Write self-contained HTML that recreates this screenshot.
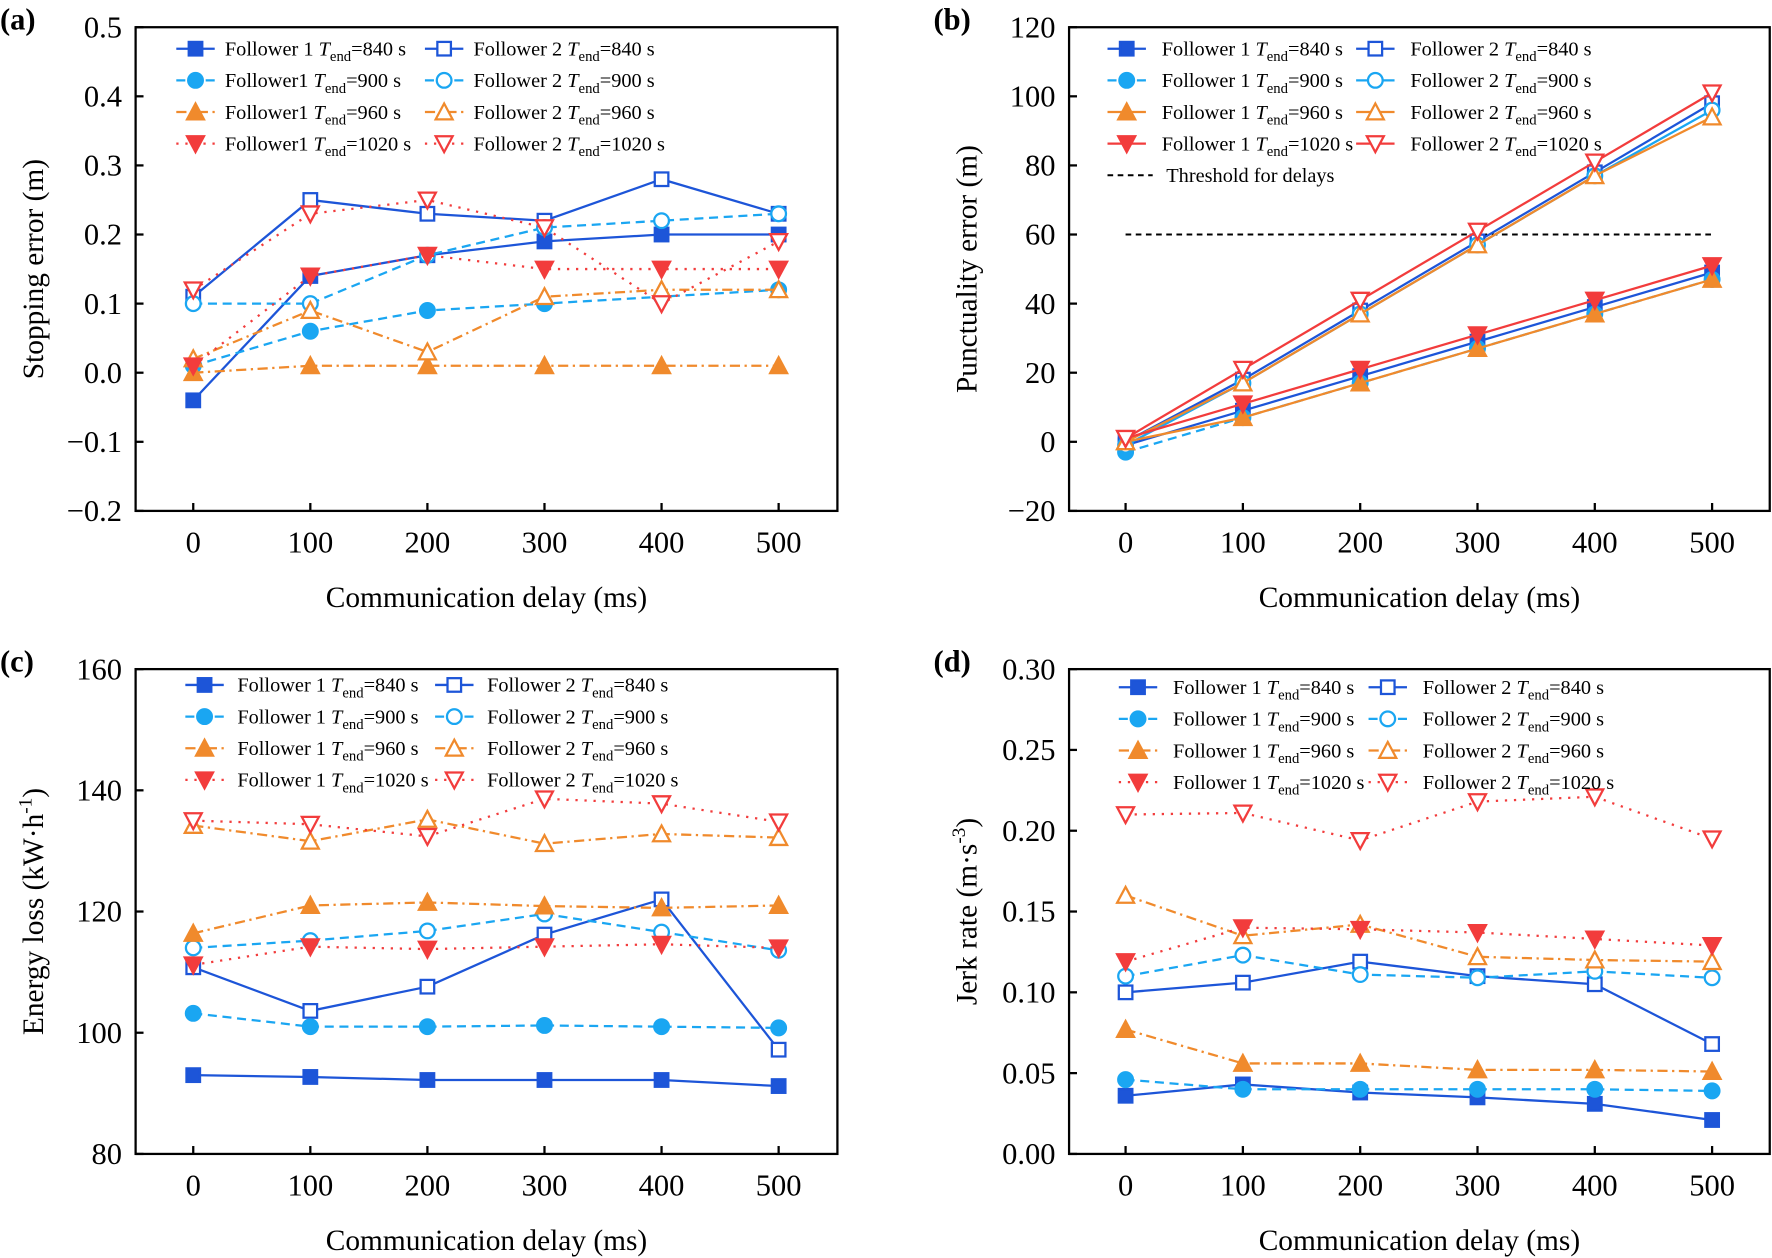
<!DOCTYPE html>
<html><head><meta charset="utf-8"><style>
html,body{margin:0;padding:0;background:#fff;}
svg{display:block;font-family:"Liberation Serif",serif;}
</style></head><body>
<svg id="fig" width="1772" height="1258" viewBox="0 0 1568 1113" xmlns="http://www.w3.org/2000/svg"></svg>
<script>
// ---- data ----
const delays = [0, 100, 200, 300, 400, 500];
const xTicks = ["0", "100", "200", "300", "400", "500"];
// (a) stopping error
const aF1_840 = [-0.04, 0.14, 0.17, 0.19, 0.20, 0.20];
const aF2_840 = [0.11, 0.25, 0.23, 0.22, 0.28, 0.23];
const aF1_900 = [0.01, 0.06, 0.09, 0.10, 0.11, 0.12];
const aF2_900 = [0.10, 0.10, 0.17, 0.21, 0.22, 0.23];
const aF1_960 = [0.00, 0.01, 0.01, 0.01, 0.01, 0.01];
const aF2_960 = [0.02, 0.09, 0.03, 0.11, 0.12, 0.12];
const aF1_1020 = [0.01, 0.14, 0.17, 0.15, 0.15, 0.15];
const aF2_1020 = [0.12, 0.23, 0.25, 0.21, 0.10, 0.19];
const aTicks = ["\u22120.2", "\u22120.1", "0.0", "0.1", "0.2", "0.3", "0.4", "0.5"];
const aTickVals = [-0.2, -0.1, 0, 0.1, 0.2, 0.3, 0.4, 0.5];
// (b) punctuality error
const bF1_840 = [-1, 9, 19, 29, 39, 49];
const bF2_840 = [0, 18, 38, 58, 78, 98];
const bF1_900 = [-3, 7, 17, 27, 37, 47];
const bF2_900 = [-1, 17, 37, 57, 77, 96];
const bF1_960 = [0, 7, 17, 27, 37, 47];
const bF2_960 = [0, 17, 37, 57, 77, 94];
const bF1_1020 = [1, 11, 21, 31, 41, 51];
const bF2_1020 = [1, 21, 41, 61, 81, 101];
const bThreshold = [60, 60];
const bTicks = ["\u221220", "0", "20", "40", "60", "80", "100", "120"];
const bTickVals = [-20, 0, 20, 40, 60, 80, 100, 120];
// (c) energy loss
const cF1_840 = [93, 92.7, 92.2, 92.2, 92.2, 91.2];
const cF2_840 = [110.8, 103.6, 107.6, 116.2, 122, 97.2];
const cF1_900 = [103.2, 101, 101, 101.2, 101, 100.8];
const cF2_900 = [114, 115.2, 116.8, 119.6, 116.6, 113.6];
const cF1_960 = [116.4, 121, 121.5, 120.9, 120.6, 121];
const cF2_960 = [134.2, 131.6, 135.2, 131.2, 132.8, 132.2];
const cF1_1020 = [111.2, 114.2, 113.8, 114.2, 114.6, 114];
const cF2_1020 = [135, 134.4, 132.4, 138.6, 137.8, 134.8];
const cTicks = ["80", "100", "120", "140", "160"];
const cTickVals = [80, 100, 120, 140, 160];
// (d) jerk rate
const dF1_840 = [0.036, 0.043, 0.038, 0.035, 0.031, 0.021];
const dF2_840 = [0.100, 0.106, 0.119, 0.110, 0.105, 0.068];
const dF1_900 = [0.046, 0.040, 0.040, 0.040, 0.040, 0.039];
const dF2_900 = [0.110, 0.123, 0.111, 0.109, 0.113, 0.109];
const dF1_960 = [0.077, 0.056, 0.056, 0.052, 0.052, 0.051];
const dF2_960 = [0.160, 0.135, 0.142, 0.122, 0.120, 0.119];
const dF1_1020 = [0.119, 0.140, 0.139, 0.137, 0.133, 0.129];
const dF2_1020 = [0.210, 0.211, 0.194, 0.218, 0.221, 0.195];
const dTicks = ["0.00", "0.05", "0.10", "0.15", "0.20", "0.25", "0.30"];
const dTickVals = [0, 0.05, 0.10, 0.15, 0.20, 0.25, 0.30];

const NS = "http://www.w3.org/2000/svg";
const svg = document.getElementById("fig");
const BLUE = "#1d55d8", LBLUE = "#1aa6f2", ORANGE = "#f08a2c", RED = "#f23c3c";
const DASH = {solid: "", dash: "8,5", dashdot: "9,4,2,4", dot: "2,6"};

function el(tag, attrs, parent) {
  const e = document.createElementNS(NS, tag);
  for (const k in attrs) e.setAttribute(k, attrs[k]);
  (parent || svg).appendChild(e);
  return e;
}
function marker(g, type, filled, color, x, y) {
  const s = 6.5;
  const fill = filled ? color : "#fff";
  let m;
  if (type === "sq") m = el("rect", {x: x - s + 0.5, y: y - s + 0.5, width: 2 * s - 1, height: 2 * s - 1, fill: fill, stroke: color, "stroke-width": 2}, g);
  else if (type === "ci") m = el("circle", {cx: x, cy: y, r: s, fill: fill, stroke: color, "stroke-width": 2}, g);
  else if (type === "up") m = el("polygon", {points: `${x},${y - s - 1} ${x - s - 1},${y + s} ${x + s + 1},${y + s}`, fill: fill, stroke: color, "stroke-width": 2}, g);
  else m = el("polygon", {points: `${x},${y + s + 1} ${x - s - 1},${y - s} ${x + s + 1},${y - s}`, fill: fill, stroke: color, "stroke-width": 2}, g);
  
  
}
function legendLabel(g, x, y, who, tval) {
  const t = el("text", {x: x, y: y + 6, "font-size": 18, fill: "#000"}, g);
  t.appendChild(document.createTextNode(who + " "));
  const ti = el("tspan", {"font-style": "italic"}, t); ti.textContent = "T";
  const sub = el("tspan", {"font-size": 13, dy: 5}, t); sub.textContent = "end";
  const rest = el("tspan", {dy: -5}, t); rest.textContent = "=" + tval + " s";
  return t;
}

function panel(cfg) {
  const g = el("g", {});
  
  
  const {L, R, T, B, ymin, ymax, x0, x1} = cfg;
  const xs = v => x0 + (v - delays[0]) / (delays[5] - delays[0]) * (x1 - x0);
  const ys = v => B - (v - ymin) / (ymax - ymin) * (B - T);
  const frame = el("rect", {x: L, y: T, width: R - L, height: B - T, fill: "none", stroke: "#000", "stroke-width": 2}, g);
  
  
  cfg.tickVals.forEach((v, i) => {
    const y = ys(v);
    el("line", {x1: L, x2: L + 7, y1: y, y2: y, stroke: "#000", "stroke-width": 2}, g);
    const t = el("text", {x: L - 12, y: y + 9, "text-anchor": "end", "font-size": 27}, g);
    t.textContent = cfg.ticks[i];
    
    
  });
  delays.forEach((d, i) => {
    const x = xs(d);
    el("line", {x1: x, x2: x, y1: B, y2: B - 7, stroke: "#000", "stroke-width": 2}, g);
    const t = el("text", {x: x, y: B + 37, "text-anchor": "middle", "font-size": 27}, g);
    t.textContent = xTicks[i];
    
    
  });
  const xt = el("text", {x: (L + R) / 2, y: B + 85, "text-anchor": "middle", "font-size": 26}, g);
  xt.textContent = "Communication delay (ms)";
  
  
  const yt = el("text", {x: 0, y: 0, "text-anchor": "middle", "font-size": 26, transform: `translate(${L - 82},${(T + B) / 2}) rotate(-90)`}, g);
  yt.innerHTML = cfg.ytitle;
  
  
  const pl = el("text", {x: cfg.lx, y: T + 2, "font-size": 27, "font-weight": "bold"}, g);
  pl.textContent = cfg.label;
  
  
  if (cfg.threshold) {
    const th = el("line", {x1: xs(0), x2: xs(500), y1: ys(cfg.threshold[0]), y2: ys(cfg.threshold[1]), stroke: "#000", "stroke-width": 1.8, "stroke-dasharray": "5,4"}, g);
    
    
  }
  cfg.series.forEach(s => {
    const sg = el("g", {}, g);
    
    
    const pts = s.data.map((v, i) => `${xs(delays[i])},${ys(v)}`).join(" ");
    el("polyline", {points: pts, fill: "none", stroke: s.color, "stroke-width": 2, "stroke-dasharray": DASH[s.dash]}, sg);
    s.data.forEach((v, i) => marker(sg, s.mk, s.filled, s.color, xs(delays[i]), ys(v)));
  });
  const lg = el("g", {}, g);
  
  
  cfg.series.forEach((s, i) => {
    const col = s.filled ? 0 : 1, row = Math.floor(i / 2);
    const lx = cfg.leg.cx[col], ly = cfg.leg.y0 + row * 28;
    const eg = el("g", {}, lg);
    
    
    el("line", {x1: lx, x2: lx + 34, y1: ly, y2: ly, stroke: s.color, "stroke-width": 2, "stroke-dasharray": DASH[s.dash]}, eg);
    marker(eg, s.mk, s.filled, s.color, lx + 17, ly);
    const f1 = (row === 0 && cfg.leg.f1first) ? cfg.leg.f1first : cfg.leg.f1;
    legendLabel(eg, lx + cfg.leg.tg, ly, s.filled ? f1 : "Follower 2", s.t);
  });
  if (cfg.threshold) {
    const eg = el("g", {}, lg);
    
    
    const ly = cfg.leg.y0 + 4 * 28;
    el("line", {x1: cfg.leg.cx[0], x2: cfg.leg.cx[0] + 40, y1: ly, y2: ly, stroke: "#000", "stroke-width": 1.8, "stroke-dasharray": "5,4"}, eg);
    const t = el("text", {x: cfg.leg.cx[0] + 52, y: ly + 6, "font-size": 18}, eg);
    t.textContent = "Threshold for delays";
  }
}
function mkSeries(arrs, styles) {
  const meta = [["sq", true, BLUE, "840"], ["sq", false, BLUE, "840"], ["ci", true, LBLUE, "900"], ["ci", false, LBLUE, "900"],
                ["up", true, ORANGE, "960"], ["up", false, ORANGE, "960"], ["dn", true, RED, "1020"], ["dn", false, RED, "1020"]];
  return arrs.map((d, i) => ({data: d, mk: meta[i][0], filled: meta[i][1], color: meta[i][2], t: meta[i][3], dash: styles[i],
    name: (meta[i][1] ? "follower1-" : "follower2-") + meta[i][3] + "-series"}));
}
const stdStyles = ["solid", "solid", "dash", "dash", "dashdot", "dashdot", "dot", "dot"];
panel({name: "panel-a-stopping-error", label: "(a)", lx: 0, L: 120, R: 741, T: 24, B: 452, ymin: -0.2, ymax: 0.5, x0: 171, x1: 689,
  ticks: aTicks, tickVals: aTickVals, ytitle: "Stopping error (m)",
  series: mkSeries([aF1_840, aF2_840, aF1_900, aF2_900, aF1_960, aF2_960, aF1_1020, aF2_1020], stdStyles),
  leg: {cx: [156, 376], y0: 43, tg: 43, f1: "Follower1", f1first: "Follower 1"}});
panel({name: "panel-b-punctuality-error", label: "(b)", lx: 826, L: 946, R: 1566, T: 24, B: 452, ymin: -20, ymax: 120, x0: 996, x1: 1515,
  ticks: bTicks, tickVals: bTickVals, ytitle: "Punctuality error (m)", threshold: bThreshold,
  series: mkSeries([bF1_840, bF2_840, bF1_900, bF2_900, bF1_960, bF2_960, bF1_1020, bF2_1020], ["solid","solid","dash","solid","solid","solid","solid","solid"]),
  leg: {cx: [980, 1200], y0: 43, tg: 48, f1: "Follower 1"}});
panel({name: "panel-c-energy-loss", label: "(c)", lx: 0, L: 120, R: 741, T: 592, B: 1021, ymin: 80, ymax: 160, x0: 171, x1: 689,
  ticks: cTicks, tickVals: cTickVals, ytitle: "Energy loss (kW·h<tspan dy='-10' font-size='17'>-1</tspan><tspan dy='10'>)</tspan>",
  series: mkSeries([cF1_840, cF2_840, cF1_900, cF2_900, cF1_960, cF2_960, cF1_1020, cF2_1020], stdStyles),
  leg: {cx: [164, 385], y0: 606, tg: 46, f1: "Follower 1"}});
panel({name: "panel-d-jerk-rate", label: "(d)", lx: 826, L: 946, R: 1566, T: 592, B: 1021, ymin: 0, ymax: 0.30, x0: 996, x1: 1515,
  ticks: dTicks, tickVals: dTickVals, ytitle: "Jerk rate (m·s<tspan dy='-10' font-size='17'>-3</tspan><tspan dy='10'>)</tspan>",
  series: mkSeries([dF1_840, dF2_840, dF1_900, dF2_900, dF1_960, dF2_960, dF1_1020, dF2_1020], stdStyles),
  leg: {cx: [990, 1211], y0: 608, tg: 48, f1: "Follower 1"}});
</script>
</body></html>
